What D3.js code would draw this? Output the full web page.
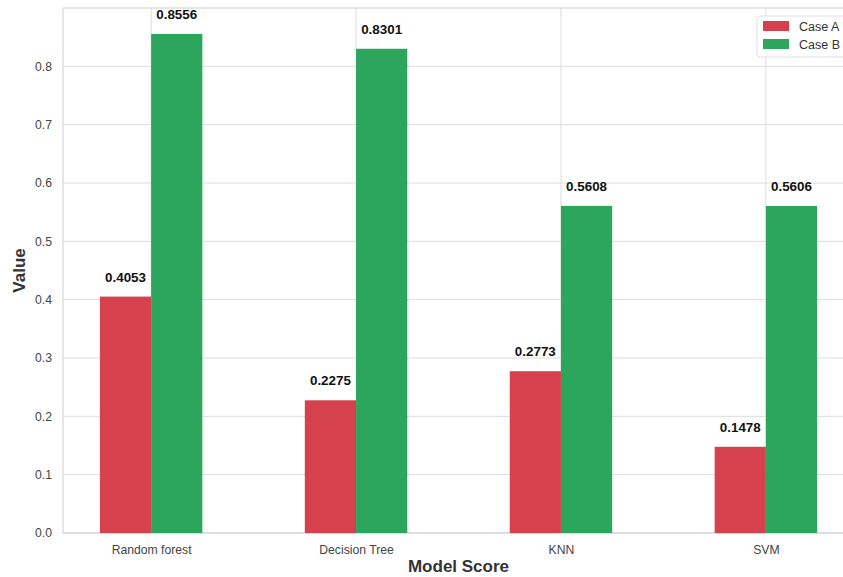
<!DOCTYPE html>
<html>
<head>
<meta charset="utf-8">
<script src="https://cdn.jsdelivr.net/npm/d3@7"></script>
<style>
  html, body { margin: 0; padding: 0; background: #fff; }
  svg { display: block; font-family: "Liberation Sans", Arial, sans-serif; }
</style>
</head>
<body>
<svg id="chart" width="843" height="577"></svg>
<script>
// Model scores for two cases
const models = ["Random forest", "Decision Tree", "KNN", "SVM"];
const caseA = [0.4053, 0.2275, 0.2773, 0.1478];
const caseB = [0.8556, 0.8301, 0.5608, 0.5606];
const seriesNames = ["Case A", "Case B"];
const seriesColors = ["#d5414d", "#2ca65d"];
const yTicks = [0.0, 0.1, 0.2, 0.3, 0.4, 0.5, 0.6, 0.7, 0.8];

const svg = d3.select("#chart");
const plot = { left: 63, right: 854, top: 8, bottom: 533 };

const x = d3.scaleLinear().domain([-0.43, 3.43]).range([plot.left, plot.right]);
const y = d3.scaleLinear().domain([0, 0.9]).range([plot.bottom, plot.top]);
const barW = 0.25;

const g = svg.append("g");

// grid lines
g.selectAll(".hgrid").data(yTicks).enter().append("line")
  .attr("x1", plot.left).attr("x2", plot.right)
  .attr("y1", d => y(d)).attr("y2", d => y(d))
  .attr("stroke", "#dcdcdc").attr("stroke-width", 1);
g.selectAll(".vgrid").data(models).enter().append("line")
  .attr("x1", (d, i) => x(i)).attr("x2", (d, i) => x(i))
  .attr("y1", plot.top).attr("y2", plot.bottom)
  .attr("stroke", "#dcdcdc").attr("stroke-width", 1);

// frame
g.append("rect")
  .attr("x", plot.left).attr("y", plot.top)
  .attr("width", plot.right - plot.left).attr("height", plot.bottom - plot.top)
  .attr("fill", "none").attr("stroke", "#cfcfcf").attr("stroke-width", 1);

// bars with value labels
const series = [caseA, caseB];
series.forEach((vals, s) => {
  const bars = g.append("g");
  bars.selectAll("rect").data(vals).enter().append("rect")
    .attr("x", (d, i) => x(i - barW + s * barW))
    .attr("width", x(barW) - x(0))
    .attr("y", d => y(d))
    .attr("height", d => y(0) - y(d))
    .attr("fill", seriesColors[s]);
  bars.selectAll("text").data(vals).enter().append("text")
    .attr("x", (d, i) => x(i - barW / 2 + s * barW))
    .attr("y", d => y(d) - 15)
    .attr("text-anchor", "middle")
    .attr("font-size", 13.4).attr("font-weight", "bold").attr("fill", "#111")
    .text(d => d.toFixed(4));
});

// y axis
const yAxis = d3.axisLeft(y).tickValues(yTicks).tickFormat(d3.format(".1f")).tickSize(0).tickPadding(11);
const ya = g.append("g").attr("transform", `translate(${plot.left},0)`).call(yAxis);
ya.select(".domain").remove();
ya.selectAll("text").attr("font-size", 12.2).attr("fill", "#444")
  .attr("font-family", "'Liberation Sans', Arial, sans-serif");

// x axis
const xAxis = d3.axisBottom(x).tickValues(d3.range(models.length)).tickFormat(i => models[i]).tickSize(0).tickPadding(12);
const xa = g.append("g").attr("transform", `translate(0,${plot.bottom})`).call(xAxis);
xa.select(".domain").remove();
xa.selectAll("text").attr("font-size", 12.2).attr("fill", "#444")
  .attr("font-family", "'Liberation Sans', Arial, sans-serif");

// axis titles
svg.append("text")
  .attr("x", (plot.left + plot.right) / 2).attr("y", 572)
  .attr("text-anchor", "middle").attr("font-size", 17).attr("font-weight", "bold").attr("fill", "#333")
  .text("Model Score");
svg.append("text")
  .attr("transform", `translate(25,${(plot.top + plot.bottom) / 2}) rotate(-90)`)
  .attr("text-anchor", "middle").attr("font-size", 17).attr("font-weight", "bold").attr("fill", "#333")
  .text("Value");

// legend
const lg = svg.append("g").attr("transform", "translate(757,16)");
lg.append("rect").attr("width", 110).attr("height", 41).attr("rx", 3)
  .attr("fill", "#fff").attr("fill-opacity", 0.85).attr("stroke", "#e0e0e0");
seriesNames.forEach((name, i) => {
  lg.append("rect").attr("x", 6).attr("y", 5 + i * 18).attr("width", 26).attr("height", 10)
    .attr("fill", seriesColors[i]);
  lg.append("text").attr("x", 42).attr("y", 14.5 + i * 18)
    .attr("font-size", 12.5).attr("fill", "#333").text(name);
});
</script>
</body>
</html>
